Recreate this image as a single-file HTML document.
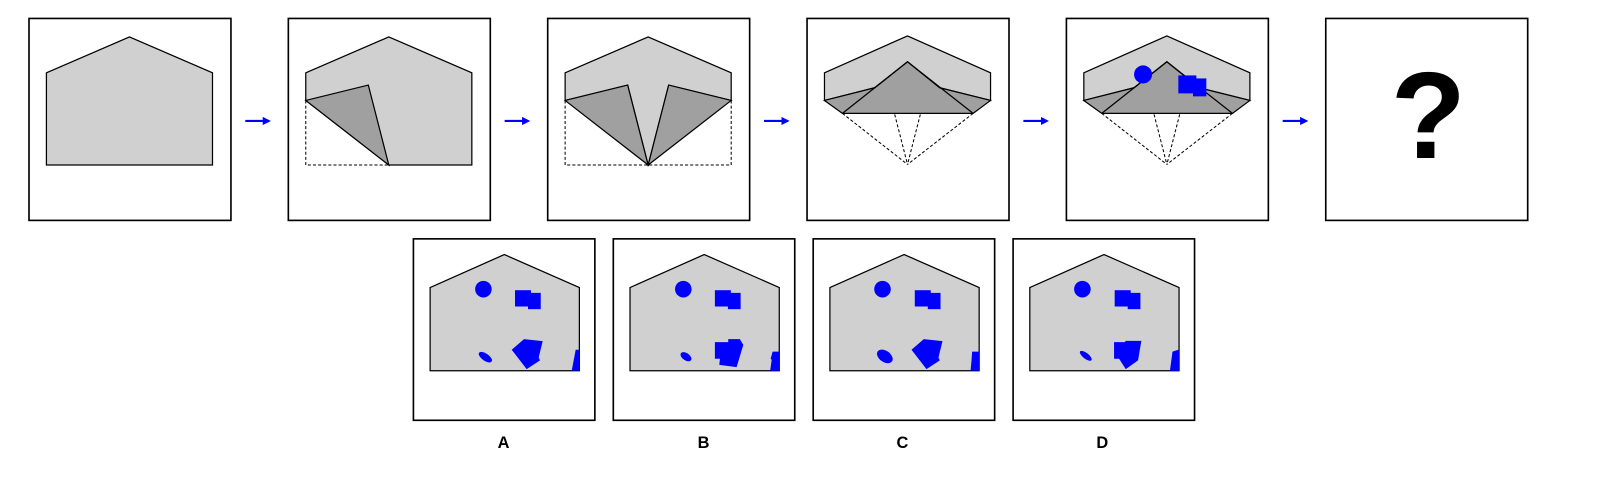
<!DOCTYPE html>
<html><head><meta charset="utf-8"><style>
html,body{margin:0;padding:0;background:#fff;}
svg{display:block;}
</style></head><body>
<svg width="1610" height="490" viewBox="0 0 1570 478" xmlns="http://www.w3.org/2000/svg" font-family="'Liberation Sans', sans-serif">
<defs>
<marker id="ah" markerWidth="8" markerHeight="8" refX="6" refY="4" orient="auto" markerUnits="userSpaceOnUse">
<path d="M0,0 L8,4 L0,8 z" fill="#00f"/></marker>
</defs>

<!-- Step 1 -->
<g transform="translate(28,18)">
<rect width="197" height="197" fill="#fff" stroke="#000" stroke-width="1.6"/>
<polygon points="17,53 98,18 179,53 179,143 17,143" fill="#d0d0d0" stroke="#000" stroke-width="1.2"/>
</g>

<!-- Step 2 -->
<g transform="translate(281,18)">
<rect width="197" height="197" fill="#fff" stroke="#000" stroke-width="1.6"/>
<polygon points="17,53 98,18 179,53 179,143 98,143 17,80" fill="#d0d0d0" stroke="#000" stroke-width="1.2"/>
<polyline points="17,80 17,143 98,143" fill="none" stroke="#000" stroke-width="1" stroke-dasharray="3,2"/>
<polygon points="17,80 78,65 98,143" fill="#a0a0a0" stroke="#000" stroke-width="1.2"/>
</g>

<!-- Step 3 -->
<g transform="translate(534,18)">
<rect width="197" height="197" fill="#fff" stroke="#000" stroke-width="1.6"/>
<polygon points="17,53 98,18 179,53 179,80 118,65 98,143 78,65 17,80" fill="#d0d0d0" stroke="#000" stroke-width="1.2"/>
<polyline points="17,80 17,143 179,143 179,80" fill="none" stroke="#000" stroke-width="1" stroke-dasharray="3,2"/>
<polygon points="17,80 78,65 98,143" fill="#a0a0a0" stroke="#000" stroke-width="1.2"/>
<polygon points="179,80 118,65 98,143" fill="#a0a0a0" stroke="#000" stroke-width="1.2"/>
</g>

<!-- Step 4 -->
<g transform="translate(787,18)">
<rect width="197" height="197" fill="#fff" stroke="#000" stroke-width="1.6"/>
<polygon points="17,53 98,17 179,53 179,80 129.4,67.6 98,42.3 66,67.6 17,80" fill="#d0d0d0" stroke="#000" stroke-width="1.2"/>
<polygon points="17,80 66,67.6 98,42.3 129.4,67.6 179,80 162,92.6 34.5,92.6" fill="#a0a0a0" stroke="#000" stroke-width="1.2"/>
<polyline points="34.5,92.6 98,42.3 162,92.6" fill="none" stroke="#000" stroke-width="1.2"/>
<g fill="none" stroke="#000" stroke-width="1" stroke-dasharray="3,2">
<line x1="34.5" y1="92.6" x2="98" y2="142.4"/><line x1="162" y1="92.6" x2="98" y2="142.4"/>
<line x1="85.5" y1="93.6" x2="98" y2="142.4"/><line x1="110.5" y1="93.6" x2="98" y2="142.4"/>
</g>
</g>

<!-- Step 5 -->
<g transform="translate(1040,18)">
<rect width="197" height="197" fill="#fff" stroke="#000" stroke-width="1.6"/>
<polygon points="17,53 98,17 179,53 179,80 129.4,67.6 98,42.3 66,67.6 17,80" fill="#d0d0d0" stroke="#000" stroke-width="1.2"/>
<polygon points="17,80 66,67.6 98,42.3 129.4,67.6 179,80 162,92.6 34.5,92.6" fill="#a0a0a0" stroke="#000" stroke-width="1.2"/>
<polyline points="34.5,92.6 98,42.3 162,92.6" fill="none" stroke="#000" stroke-width="1.2"/>
<g fill="none" stroke="#000" stroke-width="1" stroke-dasharray="3,2">
<line x1="34.5" y1="92.6" x2="98" y2="142.4"/><line x1="162" y1="92.6" x2="98" y2="142.4"/>
<line x1="85.5" y1="93.6" x2="98" y2="142.4"/><line x1="110.5" y1="93.6" x2="98" y2="142.4"/>
</g>
<circle cx="74.8" cy="54.6" r="8.8" fill="#00f"/>
<rect x="109.2" y="55.6" width="17.6" height="17.5" fill="#00f"/>
<rect x="123.5" y="58.5" width="13" height="17.5" fill="#00f"/>
</g>

<!-- Question panel -->
<g transform="translate(1293,18)">
<rect width="197" height="197" fill="#fff" stroke="#000" stroke-width="1.6"/>
<text x="100" y="136" font-size="120" font-weight="bold" text-anchor="middle">?</text>
</g>

<!-- Arrows -->
<g stroke="#00f" stroke-width="2">
<line x1="239" y1="118" x2="262" y2="118" marker-end="url(#ah)"/>
<line x1="492" y1="118" x2="515" y2="118" marker-end="url(#ah)"/>
<line x1="745" y1="118" x2="768" y2="118" marker-end="url(#ah)"/>
<line x1="998" y1="118" x2="1021" y2="118" marker-end="url(#ah)"/>
<line x1="1251" y1="118" x2="1274" y2="118" marker-end="url(#ah)"/>
</g>

<!-- Option A -->
<g transform="translate(403,233)">
<rect width="177" height="177" fill="#fff" stroke="#000" stroke-width="1.6"/>
<polygon points="16.3,47.5 88.7,15.3 161.9,47.5 161.9,128.7 16.3,128.7" fill="#d0d0d0" stroke="#000" stroke-width="1.2"/>
<g fill="#00f">
<circle cx="68.3" cy="49.1" r="8.1"/>
<rect x="99.1" y="50.1" width="15.6" height="15.9"/><rect x="111.8" y="52.7" width="12.4" height="15.9"/>
<polygon points="95.9,108.2 107.9,97.8 126.1,99.8 122.2,115.7 123.5,118.6 110.5,127.1"/>
<ellipse cx="70.2" cy="115.4" rx="7.5" ry="3.5" transform="rotate(35 70.2 115.4)"/>
<polygon points="158.3,108.2 161.9,108.2 161.9,128.7 154.4,128.7"/>
</g>
</g>
<!-- Option B -->
<g transform="translate(598,233)">
<rect width="177" height="177" fill="#fff" stroke="#000" stroke-width="1.6"/>
<polygon points="16.3,47.5 88.7,15.3 161.9,47.5 161.9,128.7 16.3,128.7" fill="#d0d0d0" stroke="#000" stroke-width="1.2"/>
<g fill="#00f">
<circle cx="68.3" cy="49.1" r="8.1"/>
<rect x="99.1" y="50.1" width="15.6" height="15.9"/><rect x="111.8" y="52.7" width="12.4" height="15.9"/>
<polygon points="99.1,100.8 112.1,100.8 112.1,97.8 123.5,97.8 126.8,103.4 120.3,125.1 103.4,122.9 104,117 99.1,117"/>
<ellipse cx="70.9" cy="115" rx="6" ry="3.5" transform="rotate(35 70.9 115)"/>
<polygon points="155.4,110 161.9,110 161.9,128.7 153,128.7 154.5,118 153.5,117"/>
</g>
</g>
<!-- Option C -->
<g transform="translate(793,233)">
<rect width="177" height="177" fill="#fff" stroke="#000" stroke-width="1.6"/>
<polygon points="16.3,47.5 88.7,15.3 161.9,47.5 161.9,128.7 16.3,128.7" fill="#d0d0d0" stroke="#000" stroke-width="1.2"/>
<g fill="#00f">
<circle cx="67.6" cy="49.1" r="8.1"/>
<rect x="99.1" y="50.1" width="15.6" height="15.9"/><rect x="111.8" y="52.7" width="12.4" height="15.9"/>
<polygon points="95.9,108.2 107.9,97.8 126.1,99.8 122.2,115.7 123.5,118.6 110.5,127.1"/>
<ellipse cx="69.9" cy="114.7" rx="8.5" ry="5.5" transform="rotate(35 69.9 114.7)"/>
<polygon points="155,110 161.9,110 161.9,128.7 153.5,128.7 154.5,118"/>
</g>
</g>
<!-- Option D -->
<g transform="translate(988,233)">
<rect width="177" height="177" fill="#fff" stroke="#000" stroke-width="1.6"/>
<polygon points="16.3,47.5 88.7,15.3 161.9,47.5 161.9,128.7 16.3,128.7" fill="#d0d0d0" stroke="#000" stroke-width="1.2"/>
<g fill="#00f">
<circle cx="67.6" cy="49.1" r="8.1"/>
<rect x="99.1" y="50.1" width="15.6" height="15.9"/><rect x="111.8" y="52.7" width="12.4" height="15.9"/>
<polygon points="98.5,100.8 108.9,100.8 109.9,99.5 125.1,99.5 121.9,118.6 109.9,127.1 103.4,117 98.5,117"/>
<ellipse cx="70.9" cy="114.1" rx="7" ry="2.8" transform="rotate(38 70.9 114.1)"/>
<polygon points="155.5,110 161.9,108 161.9,128.7 153,128.7"/>
</g>
</g>

<!-- Labels -->
<g font-size="16" font-weight="bold" text-anchor="middle" fill="#000">
<text x="491" y="437">A</text>
<text x="686" y="437">B</text>
<text x="880" y="437">C</text>
<text x="1075" y="437">D</text>
</g>
</svg>
</body></html>
